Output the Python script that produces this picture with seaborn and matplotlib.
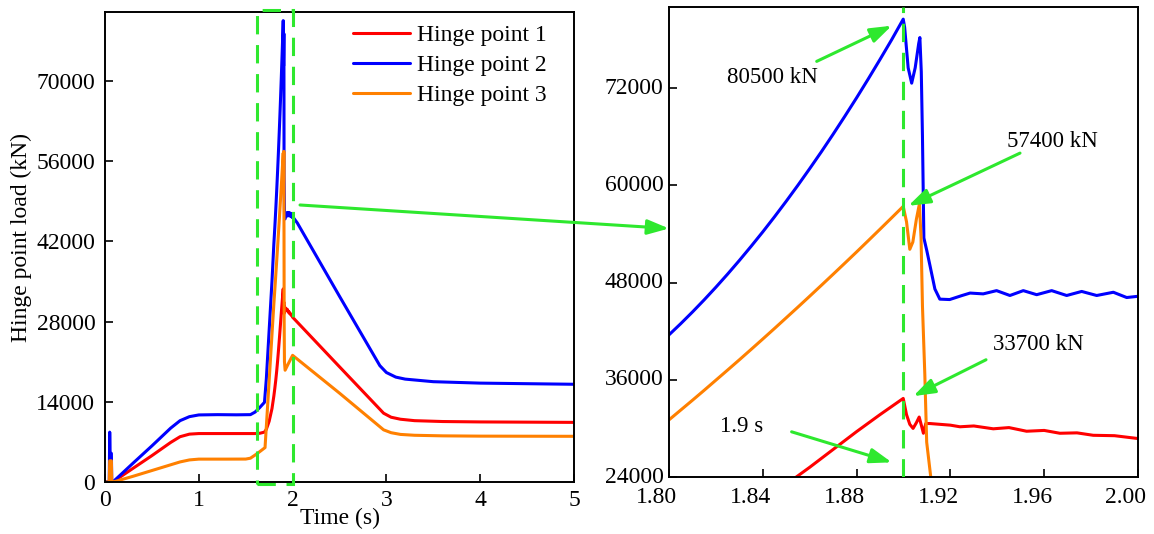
import matplotlib
matplotlib.use('Agg')
import matplotlib.pyplot as plt
import numpy as np
import pandas as pd
import seaborn as sns
from matplotlib.lines import Line2D
from matplotlib.patches import Rectangle
from matplotlib.transforms import ScaledTranslation

# ---------------- data ----------------
series_names = ['Hinge point 1', 'Hinge point 2', 'Hinge point 3']
series_colors = ['#ff0000', '#0000ff', '#ff8000']

t_hp1 = [0.0, 0.10, 0.11, 0.3, 0.5, 0.7, 0.8, 0.9, 1.0, 1.3, 1.6, 1.65, 1.70, 1.72, 1.75,
         1.78, 1.80, 1.81, 1.82, 1.83, 1.84, 1.85, 1.86, 1.87, 1.88, 1.89, 1.8999, 1.9013,
         1.9027, 1.9041, 1.9055, 1.9067, 1.9078, 1.9085, 1.9095, 1.9113, 1.92, 1.9241,
         1.93, 1.9383, 1.945, 1.9525, 1.96, 1.9667, 1.974, 1.9809, 1.99, 2.0, 2.5,
         2.97, 3.05, 3.15, 3.3, 3.6, 4.0, 5.0]
load_hp1 = [0, 0, 300, 2400, 4600, 6900, 7900, 8350, 8450, 8450, 8450, 8500, 8700, 9200, 10600,
            12800, 15000, 16300, 17700, 19300, 21100, 23100, 25200, 27400, 29600, 31700, 33700, 31700,
            30500, 30000, 30700, 31400, 30200, 29400, 30600, 30600, 30400, 30200,
            30300, 29950, 30100, 29650, 29750, 29400, 29450, 29150, 29100, 28750, 20100,
            12000, 11300, 10950, 10700, 10550, 10480, 10400]

t_hp2 = [0.0, 0.045, 0.05, 0.054, 0.068, 0.072, 0.10, 0.11, 0.3, 0.5, 0.7, 0.8, 0.9, 1.0,
         1.2, 1.4, 1.55, 1.6, 1.65, 1.70, 1.72, 1.75, 1.78, 1.80, 1.805, 1.81, 1.815, 1.82,
         1.825, 1.83, 1.835, 1.84, 1.845, 1.85, 1.855, 1.86, 1.865, 1.87, 1.875, 1.88,
         1.885, 1.89, 1.895, 1.8999, 1.9005, 1.902, 1.9035, 1.905, 1.9065, 1.907,
         1.9076, 1.9081, 1.9087, 1.9099, 1.9113, 1.9134, 1.9155, 1.9197, 1.925, 1.9284,
         1.934, 1.9397, 1.9454, 1.9511, 1.9568, 1.9632, 1.9696, 1.976, 1.9824, 1.9895,
         1.9952, 2.0, 2.05, 2.5, 2.93, 3.0, 3.1, 3.2, 3.5, 4.0, 4.5, 5.0]
load_hp2 = [0, 0, 8700, 5000, 5000, 0, 200, 400, 3300, 6300, 9400, 10700, 11400, 11700,
            11750, 11720, 11750, 12200, 13000, 13900, 18000, 26500, 35000, 41540, 42920, 44360, 45860, 47420,
            49040, 50720, 52460, 54250, 56110, 58030, 60010, 62050, 64140, 66300, 68520, 70790,
            73130, 75530, 77980, 80500, 79500, 74500, 72600, 74500, 77500, 78230,
            74000, 66000, 53500, 52000, 50100, 47200, 45950, 45900, 46400, 46700,
            46600, 47000, 46400, 47000, 46500, 47000, 46400, 46900, 46400, 46800,
            46150, 46300, 45200, 32400, 20300, 19100, 18300, 17950, 17500, 17250, 17150, 17050]

t_hp3 = [0.0, 0.045, 0.05, 0.068, 0.072, 0.11, 0.3, 0.5, 0.7, 0.8, 0.9, 1.0, 1.3, 1.5, 1.55,
         1.6, 1.65, 1.706, 1.72, 1.75, 1.78, 1.80, 1.805, 1.81, 1.815, 1.82, 1.825, 1.83,
         1.835, 1.84, 1.845, 1.85, 1.855, 1.86, 1.865, 1.87, 1.875, 1.88, 1.885, 1.89,
         1.895, 1.8999, 1.9013, 1.9027, 1.904, 1.9055, 1.9068, 1.9075, 1.9081,
         1.9091, 1.9099, 1.9116, 1.913, 1.92, 1.95, 2.0, 2.5, 2.97, 3.05, 3.15, 3.3, 3.6,
         4.0, 5.0]
load_hp3 = [0, 0, 3700, 3700, 0, 100, 1000, 2000, 3000, 3500, 3850, 3990, 3990, 4000, 4150,
            4700, 5300, 6000, 9700, 17700, 25700, 31050, 32260, 33470, 34700, 35950, 37200, 38460,
            39740, 41030, 42330, 43650, 44970, 46310, 47660, 49020, 50390, 51770, 53170, 54580,
            56000, 57400, 55500, 52100, 53000, 55800, 57700, 53500, 45100,
            36700, 28300, 24100, 21000, 19500, 20500, 22100, 15500, 9100, 8600, 8300, 8150, 8050,
            8000, 7970]

left_xticks = [0, 1, 2, 3, 4, 5]
left_yticks = [0, 14000, 28000, 42000, 56000, 70000]
right_xticks = [1.80, 1.84, 1.88, 1.92, 1.96, 2.00]
right_yticks = [24000, 36000, 48000, 60000, 72000]

peak_texts = ['80500 kN', '57400 kN', '33700 kN', '1.9 s']
peak_time = 1.90

frames = []
for name, tt, vv in zip(series_names, [t_hp1, t_hp2, t_hp3], [load_hp1, load_hp2, load_hp3]):
    frames.append(pd.DataFrame({'t': tt, 'load': vv, 'series': name}))
df = pd.concat(frames, ignore_index=True)

# ---------------- style ----------------
sns.set_theme(style='ticks')
plt.rcParams['font.family'] = ['Liberation Serif', 'DejaVu Serif']
plt.rcParams['text.color'] = 'black'
plt.rcParams['axes.labelcolor'] = 'black'
plt.rcParams['xtick.color'] = 'black'
plt.rcParams['ytick.color'] = 'black'
plt.rcParams['axes.edgecolor'] = 'black'

FS = 17
GREEN = '#2ee82e'
LW = 2.2
DASH = (0, (6, 3.5))

fig = plt.figure(figsize=(11.54, 5.34), dpi=100)
fig.patch.set_facecolor('white')
ax1 = fig.add_axes([0.0910, 0.0974, 0.4064, 0.8801])
ax2 = fig.add_axes([0.5797, 0.1067, 0.4064, 0.8802])

palette = dict(zip(series_names, series_colors))
for ax in (ax1, ax2):
    sns.lineplot(data=df, x='t', y='load', hue='series', palette=palette,
                 estimator=None, sort=False, lw=LW, legend=False, ax=ax)
    ax.set_facecolor('white')
    for s in ax.spines.values():
        s.set_visible(True)
        s.set_linewidth(1.4)
        s.set_color('black')
    ax.tick_params(direction='in', length=6, width=1.2, labelsize=FS,
                   top=False, right=False)
    ax.set_xlabel('')
    ax.set_ylabel('')

# left panel
ax1.set_xlim(0, 5)
ax1.set_ylim(0, 82000)
ax1.set_xticks(left_xticks)
ax1.set_xticklabels([str(v) for v in left_xticks])
ax1.set_yticks(left_yticks)
ax1.set_yticklabels([str(v) for v in left_yticks])
ax1.tick_params(axis='y', pad=7)
ax1.tick_params(axis='x', pad=6)
ax1.set_xlabel('Time (s)', fontsize=FS)
ax1.xaxis.set_label_coords(0.5, -0.055)
ax1.set_ylabel('Hinge point load (kN)', fontsize=FS)
ax1.yaxis.set_label_coords(-0.156, 0.52)

handles = [Line2D([0], [0], color=c, lw=LW) for c in series_colors]
ax1.legend(handles, series_names, loc='upper left', bbox_to_anchor=(0.529, 0.973),
           frameon=False, fontsize=FS, borderpad=0, borderaxespad=0,
           handlelength=2.4, handletextpad=0.3, labelspacing=0.35)

rect = Rectangle((1.62, -350), 0.387, 82700, transform=ax1.transData, fill=False,
                 edgecolor=GREEN, lw=LW, ls=DASH, clip_on=False, zorder=5)
ax1.add_patch(rect)

# right panel
ax2.set_xlim(1.80, 2.00)
ax2.set_ylim(24000, 82000)
ax2.set_xticks(right_xticks)
ax2.set_xticklabels(['%.2f' % v for v in right_xticks])
ax2.set_yticks(right_yticks)
ax2.set_yticklabels([str(v) for v in right_yticks])
ax2.tick_params(axis='y', pad=4)
ax2.tick_params(axis='x', pad=7)
shift_x = ScaledTranslation(-12 / 100, 0, fig.dpi_scale_trans)
for lab in ax2.get_xticklabels():
    lab.set_transform(lab.get_transform() + shift_x)
shift_y = ScaledTranslation(0, 2.5 / 100, fig.dpi_scale_trans)
for lab in ax2.get_yticklabels():
    lab.set_transform(lab.get_transform() + shift_y)

ax2.axvline(peak_time, color=GREEN, lw=LW, ls=DASH, zorder=5)

arrow_kw = dict(arrowstyle='-|>,head_length=1.3,head_width=0.45', color=GREEN,
                lw=LW, shrinkA=0, shrinkB=0, mutation_scale=10)

# connection arrow between panels
ax2.annotate('', xy=(1.80, 54670), xycoords='data', xytext=(2.079, 48330),
             textcoords=ax1.transData, arrowprops=arrow_kw, annotation_clip=False, zorder=6)

text_pos = [(1.8246, 72560), (1.9440, 64780), (1.9382, 39650), (1.8217, 29580)]
arrow_start = [(1.8630, 75290), (1.9497, 63970), (1.9352, 38470), (1.8523, 29580)]
arrow_tip = [(1.8950, 79690), (1.9021, 57470), (1.9042, 33980), (1.8950, 25810)]
for txt, tp, st, tip in zip(peak_texts, text_pos, arrow_start, arrow_tip):
    ax2.text(tp[0], tp[1], txt, fontsize=FS - 0.5, ha='left', va='baseline', zorder=6)
    ax2.annotate('', xy=tip, xytext=st, arrowprops=arrow_kw, annotation_clip=False, zorder=6)

fig.savefig('out.png', dpi=100, facecolor='white')
